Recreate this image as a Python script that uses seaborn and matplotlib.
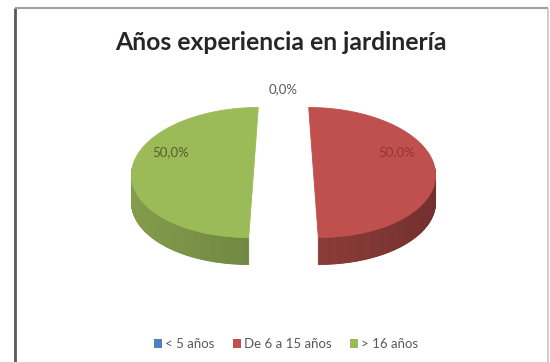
import numpy as np
import matplotlib
matplotlib.use("Agg")
import matplotlib.pyplot as plt
from matplotlib.patches import Polygon, Patch
from matplotlib.colors import to_rgb
import seaborn as sns

sns.set_theme(style="white")
plt.rcParams["font.family"] = ["Lato", "DejaVu Sans"]

# --- data -------------------------------------------------------------
title = "Años experiencia en jardinería"
categories = ["< 5 años", "De 6 a 15 años", "> 16 años"]
values = [0.0, 50.0, 50.0]
slice_colors = ["#4F81BD", "#C0504D", "#9BBB59"]
label_colors = ["#595959", "#943634", "#4F6228"]

total = sum(values)
pct_labels = [f"{v / total * 100:.1f}%".replace(".", ",") for v in values]

# --- 3-D pie geometry (pixel space) ----------------------------------
CX, CY = 283.5, 172.5      # centre of the top face
R, RY = 122.0, 65.0        # horizontal radius, projected vertical radius
DEPTH = 27.0               # thickness of the disc
EXPLODE = 30.0             # distance each slice is pulled out
PERSP = 0.16               # explosion gap widens towards the front


def project(ox, oy, X, Y, dz=0.0):
    """(ox, oy): slice offset, (X, Y): point relative to the slice centre."""
    yy = oy + Y
    s = 1.0 + PERSP * (-yy / R)
    return CX + ox * s + X, CY - yy * RY / R + dz


fig = plt.figure(figsize=(5.5, 3.62), dpi=100)
ax = fig.add_axes([0, 0, 1, 1])
ax.set_xlim(0, 550)
ax.set_ylim(362, 0)
ax.axis("off")

# chart area border
ax.plot([14.5, 14.5], [7.5, 362], color="#5a5a5a", lw=2.0, solid_capstyle="butt")
ax.plot([14.5, 547.5], [7.5, 7.5], color="#a0a0a0", lw=1.5, solid_capstyle="butt")
ax.plot([547.5, 547.5], [7.5, 362], color="#c4c4c4", lw=1.2, solid_capstyle="butt")

# angles measured clockwise from 12 o'clock, as in office charts
cum = np.concatenate([[0.0], np.cumsum(values)]) / total * 2 * np.pi
sides, tops, texts = [], [], []
for i, v in enumerate(values):
    a0, a1 = cum[i], cum[i + 1]
    mid = 0.5 * (a0 + a1)
    ox, oy = EXPLODE * np.sin(mid), EXPLODE * np.cos(mid)
    base = np.array(to_rgb(slice_colors[i]))

    if v > 0:
        phi = np.linspace(a0, a1, 240)
        px, py = project(ox, oy, R * np.sin(phi), R * np.cos(phi))
        cx0, cy0 = project(ox, oy, 0.0, 0.0)
        top = np.column_stack([np.r_[cx0, px], np.r_[cy0, py]])
        tops.append(Polygon(top, closed=True, facecolor=base, edgecolor=base,
                            lw=0.6, zorder=3))
        # curved outer wall, only the front half is visible
        for j in range(len(phi) - 1):
            if np.cos(phi[j]) > 0.05 and np.cos(phi[j + 1]) > 0.05:
                continue
            f = 0.72 - 0.12 * np.sin(0.5 * (phi[j] + phi[j + 1]))
            c = np.clip(base * f, 0, 1)
            quad = [(px[j], py[j]), (px[j + 1], py[j + 1]),
                    (px[j + 1], py[j + 1] + DEPTH), (px[j], py[j] + DEPTH)]
            sides.append(Polygon(quad, closed=True, facecolor=c,
                                 edgecolor=c, lw=0.6, zorder=2))
        # data label, rotated towards the back of the slice
        lphi = mid - np.deg2rad(24) * np.sign(np.sin(mid))
        lx, ly = project(ox, oy, 0.76 * R * np.sin(lphi), 0.76 * R * np.cos(lphi))
    else:
        lx, ly = project(0.0, 0.0, 1.28 * R * np.sin(mid), 1.28 * R * np.cos(mid))
    texts.append((lx, ly, pct_labels[i], label_colors[i]))

for p in sides + tops:
    ax.add_patch(p)
for lx, ly, t, c in texts:
    ax.text(lx, ly, t, ha="center", va="center", fontsize=9.5, color=c, zorder=5)

ax.text(281, 42, title, ha="center", va="center", fontsize=17.8,
        fontweight="bold", color="#262626")

handles = [Patch(facecolor=c, edgecolor="none", label=l)
           for c, l in zip(slice_colors, categories)]
fig.legend(handles=handles, loc="center", bbox_to_anchor=(286 / 550, 1 - 344 / 362),
           ncol=3, frameon=False, fontsize=9.5, handlelength=0.6, handleheight=0.6,
           handletextpad=0.25, columnspacing=1.4, labelcolor="#595959")

fig.savefig("out.png", dpi=100, facecolor="white")
